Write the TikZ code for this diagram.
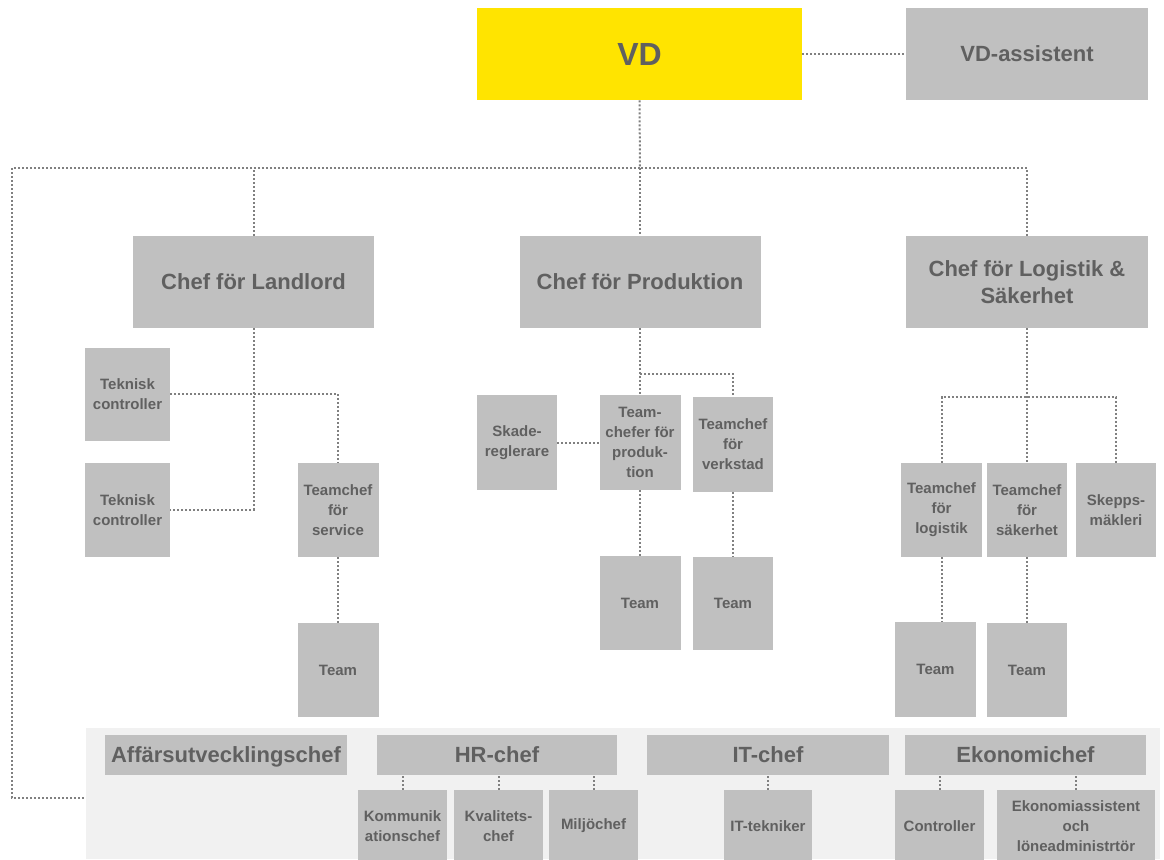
\documentclass[tikz,border=0pt]{standalone}
\usepackage{fontspec}
\setmainfont{Liberation Sans}
\usepackage{xcolor}
\definecolor{vdyellow}{RGB}{255,228,0}
\definecolor{boxgray}{RGB}{192,192,192}
\definecolor{bandgray}{RGB}{241,241,241}
\definecolor{txtgray}{RGB}{96,96,96}
\definecolor{linegray}{RGB}{128,128,128}
\tikzset{
  sz/.style 2 args={minimum width=#1*0.5pt, minimum height=#2*0.5pt},
  big/.style={fill=boxgray, text=txtgray, inner sep=0pt, align=center,
    font=\bfseries\fontsize{11}{13.5}\selectfont},
  small/.style={fill=boxgray, text=txtgray, inner sep=0pt, align=center,
    sz={81}{94}, font=\bfseries\fontsize{7.5}{10}\selectfont},
  bar/.style={big, sz={241}{40}, text depth=0pt, font=\bfseries\fontsize{11}{13.5}\selectfont},
  link/.style={draw=linegray, line width=1pt, densely dotted}
}

\begin{document}
\begin{tikzpicture}[x=0.5pt, y=-0.5pt]
  \useasboundingbox (0,0) rectangle (1164,859);

  % top
  \node[big, sz={325}{92}, fill=vdyellow, font=\bfseries\fontsize{16}{19}\selectfont] (vd) at (639.5,54) {VD};
  \node[big, sz={242}{92}] (asst) at (1027,54) {VD-assistent};

  % chefs
  \node[big, sz={241}{92}] (land) at (253.5,282) {Chef för Landlord};
  \node[big, sz={241}{92}] (prod) at (640,282) {Chef för Produktion};
  \node[big, sz={242}{92}] (logi) at (1027,282) {Chef för Logistik \&\\Säkerhet};

  % Landlord
  \node[small, sz={85}{93}] (tek1) at (127.5,394) {Teknisk\\controller};
  \node[small, sz={85}{94}] (tek2) at (127.5,510) {Teknisk\\controller};
  \node[small] (serv) at (338,510) {Teamchef\\för\\service};
  \node[small] (teamS) at (338,670) {Team};

  % Produktion
  \node[small, sz={80}{95}] (skade) at (517,442.5) {Skade-\\reglerare};
  \node[small, sz={81}{95}] (tcp) at (640,442.5) {Team-\\chefer för\\produk-\\tion};
  \node[small, sz={80}{95}] (verk) at (733,444.5) {Teamchef\\för\\verkstad};
  \node[small] (teamP) at (640,603) {Team};
  \node[small, sz={80}{93}] (teamV) at (733,603.5) {Team};

  % Logistik
  \node[small] (tlog) at (941.5,510) {Teamchef\\för\\logistik};
  \node[small, sz={80}{94}] (tsak) at (1027,510) {Teamchef\\för\\säkerhet};
  \node[small, sz={80}{94}] (skepps) at (1116,510) {Skepps-\\mäkleri};
  \node[small, sz={81}{95}] (teamL) at (935.5,669.5) {Team};
  \node[small, sz={80}{94}] (teamK) at (1027,670) {Team};

  % staff band
  \node[fill=bandgray, inner sep=0pt, sz={1074}{131}] (band) at (623,793.5) {};
  \node[bar, sz={242}{40}] (aff) at (226,755) {Affärsutvecklingschef};
  \node[bar, sz={240}{40}] (hr) at (497,755) {HR-chef};
  \node[bar, sz={242}{40}] (it) at (768,755) {IT-chef};
  \node[bar] (eko) at (1025.5,755) {Ekonomichef};
  \node[small, sz={89}{72}] (komm) at (402.5,826) {Kommunik\\ationschef};
  \node[small, sz={89}{72}] (kval) at (498.5,826) {Kvalitets-\\chef};
  \node[small, sz={89}{72}] (milj) at (593.5,826) {Miljöchef};
  \node[small, sz={88}{72}] (ittek) at (768,826) {IT-tekniker};
  \node[small, sz={89}{72}] (ctrl) at (939.5,826) {Controller};
  \node[small, sz={158}{72}] (ekoa) at (1076,826) {Ekonomiassistent\\och\\löneadministrtör};

  \coordinate (bus) at (640,168);
  \coordinate (lft) at (12,798);
  \coordinate (pj) at (640,374);
  \coordinate (lj) at (1027,397);

  \draw[link] (vd.east) -- (asst.west);
  \draw[link] (vd.south) -- (bus);
  \draw[link] (land.north) |- (bus);
  \draw[link] (logi.north) |- (bus);
  \draw[link] (bus) -- (prod.north);
  \draw[link] (bus) -| (lft) -- (lft -| band.west);

  \draw[link] (land.south) |- (tek2.east);
  \draw[link] (tek1.east) -| (serv.north);
  \draw[link] (serv.south) -- (teamS.north);

  \draw[link] (prod.south) -- (tcp.north);
  \draw[link] (pj) -| (verk.north);
  \draw[link] (skade.east) -- (tcp.west);
  \draw[link] (tcp.south) -- (teamP.north);
  \draw[link] (verk.south) -- (teamV.north);

  \draw[link] (logi.south) -- (lj) -- (tsak.north);
  \draw[link] (tlog.north) |- (lj) -| (skepps.north);
  \draw[link] (tlog.south) -- (tlog.south |- teamL.north);
  \draw[link] (tsak.south) -- (teamK.north);

  \draw[link] (komm.north) -- (komm.north |- hr.south);
  \draw[link] (kval.north) -- (kval.north |- hr.south);
  \draw[link] (milj.north) -- (milj.north |- hr.south);
  \draw[link] (ittek.north) -- (it.south);
  \draw[link] (ctrl.north) -- (ctrl.north |- eko.south);
  \draw[link] (ekoa.north) -- (ekoa.north |- eko.south);
\end{tikzpicture}
\end{document}
